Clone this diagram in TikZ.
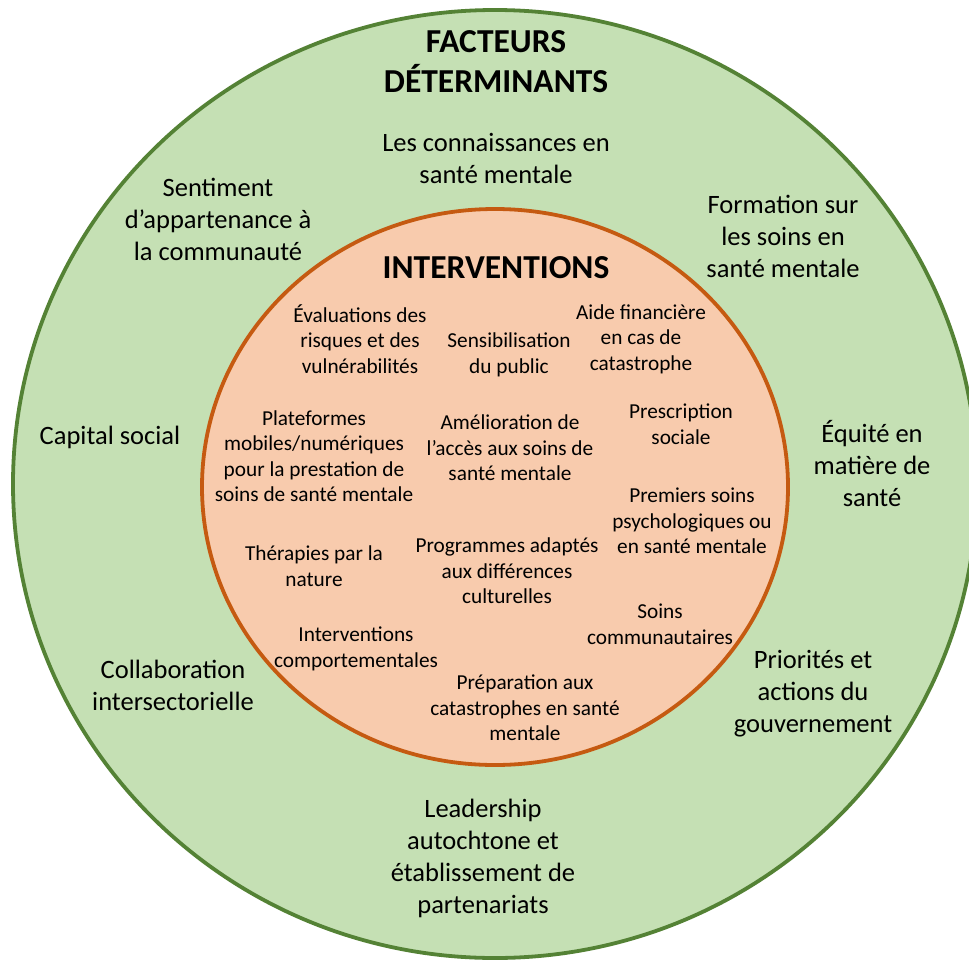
\documentclass[tikz,border=0pt]{standalone}
\usepackage{fontspec}
\setmainfont{Carlito}
\definecolor{leafgreen}{HTML}{C5E0B4}
\definecolor{darkleaf}{HTML}{548235}
\definecolor{peach}{HTML}{F8CBAD}
\definecolor{rust}{HTML}{C55A11}
\newcommand{\outerfont}{\fontsize{26.5}{32}\selectfont}
\newcommand{\innerfont}{\fontsize{21.3}{25.5}\selectfont}
\newcommand{\headfont}{\fontsize{33.5}{40}\selectfont\bfseries}

\begin{document}
\begin{tikzpicture}[x=1pt,y=-1pt,
  outertxt/.style={align=center,inner sep=0pt,font=\outerfont},
  innertxt/.style={align=center,inner sep=0pt,font=\innerfont},
  headtxt/.style={align=center,inner sep=0pt,font=\headfont}]
  \useasboundingbox (0,0) rectangle (969,961);
  \clip (0,0) rectangle (969,961);
  % the two rings
  \draw[line width=3.8pt,darkleaf,fill=leafgreen] (495,484) ellipse [x radius=482,y radius=474];
  \draw[line width=3.8pt,rust,fill=peach] (495,487) ellipse [x radius=293,y radius=278];
  % outer ring: determinants
  \node[headtxt] (det) at (496,62) {FACTEURS\\DÉTERMINANTS};
  \node[outertxt] (know) at (496,158) {Les connaissances en\\santé mentale};
  \node[outertxt] (belong) at (218,219) {Sentiment\\d’appartenance à\\la communauté};
  \node[outertxt] (train) at (783,236) {Formation sur\\les soins en\\santé mentale};
  \node[outertxt] (capital) at (110,437) {Capital social};
  \node[outertxt] (equity) at (872,464) {Équité en\\matière de\\santé};
  \node[outertxt] (collab) at (173,685) {Collaboration\\intersectorielle};
  \node[outertxt] (gov) at (813,694) {Priorités et\\actions du\\gouvernement};
  \node[outertxt] (lead) at (483,858) {Leadership\\autochtone et\\établissement de\\partenariats};
  % inner ring: interventions
  \node[headtxt] (interv) at (496,268) {INTERVENTIONS};
  \node[innertxt] (risk) at (360,339) {Évaluations des\\risques et des\\vulnérabilités};
  \node[innertxt] (aware) at (509,355) {Sensibilisation\\du public};
  \node[innertxt] (aid) at (641,339) {Aide financière\\en cas de\\catastrophe};
  \node[innertxt] (mobile) at (314,456) {Plateformes\\mobiles/numériques\\pour la prestation de\\soins de santé mentale};
  \node[innertxt] (access) at (510,448) {Amélioration de\\l’accès aux soins de\\santé mentale};
  \node[innertxt] (prescr) at (681,424) {Prescription\\sociale};
  \node[innertxt] (firstaid) at (692,521) {Premiers soins\\psychologiques ou\\en santé mentale};
  \node[innertxt] (nature) at (314,566) {Thérapies par la\\nature};
  \node[innertxt] (culture) at (507,571) {Programmes adaptés\\aux différences\\culturelles};
  \node[innertxt] (commun) at (660,624) {Soins\\communautaires};
  \node[innertxt] (behav) at (356,649) {Interventions\\comportementales};
  \node[innertxt] (prep) at (525,708) {Préparation aux\\catastrophes en santé\\mentale};
\end{tikzpicture}
\end{document}
